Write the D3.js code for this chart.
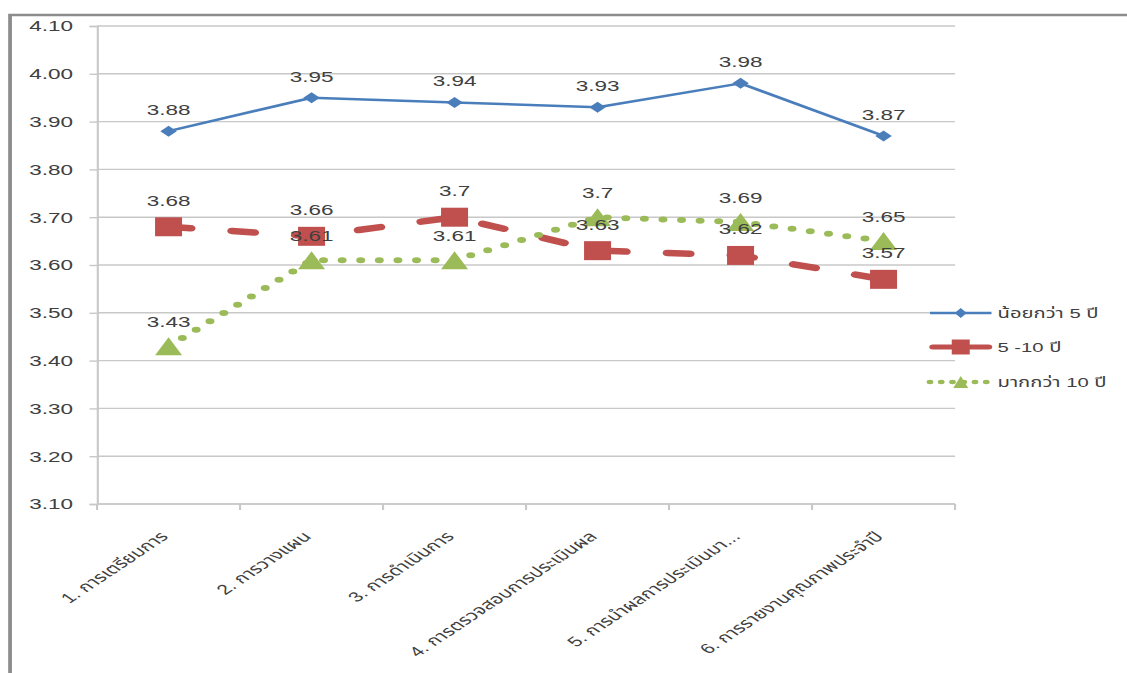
<!DOCTYPE html>
<html>
<head>
<meta charset="utf-8">
<script src="https://cdn.jsdelivr.net/npm/d3@7"></script>
<style>
  html, body { margin: 0; padding: 0; background: #fff; }
  svg { display: block; }
  text { font-family: "Liberation Sans", Arial, "Noto Sans Thai", "Noto Sans", sans-serif; fill: #404040; }
</style>
</head>
<body>
<script>
// Chart data
const categories = [
    "1. การเตรียมการ",
    "2. การวางแผน",
    "3. การดำเนินการ",
    "4. การตรวจสอบการประเมินผล",
    "5. การนำผลการประเมินมา...",
    "6. การรายงานคุณภาพประจำปี"
];
const seriesNames = ["น้อยกว่า 5 ปี", "5 -10 ปี", "มากกว่า 10 ปี"];
const lessThan5 = [3.88, 3.95, 3.94, 3.93, 3.98, 3.87];
const from5to10 = [3.68, 3.66, 3.7, 3.63, 3.62, 3.57];
const moreThan10 = [3.43, 3.61, 3.61, 3.7, 3.69, 3.65];
const yTicks = [3.10, 3.20, 3.30, 3.40, 3.50, 3.60, 3.70, 3.80, 3.90, 4.00, 4.10];

// The original picture is stretched sideways, so draw in a narrower space and scale x
const width = 1127;
const height = 673;
const stretch = 1.5;
const innerWidth = width / stretch;

const plot = { left: 64.7, right: 636.7, top: 26, bottom: 504 };

const svg = d3.select("body")
    .append("svg")
    .attr("width", width)
    .attr("height", height)
    .attr("viewBox", [0, 0, width, height]);

const g = svg.append("g")
    .attr("transform", `scale(${stretch},1)`);

// Frame round the chart
g.append("path")
    .attr("d", `M6.7,${height} L6.7,15 L${innerWidth},15`)
    .attr("fill", "none")
    .attr("stroke", "#8c8c8c")
    .attr("stroke-width", 2.5);

// Scales
const x = d3.scaleBand()
    .domain(categories)
    .range([plot.left, plot.right]);

const y = d3.scaleLinear()
    .domain([3.1, 4.1])
    .range([plot.bottom, plot.top]);

const cx = c => x(c) + x.bandwidth() / 2;

// Horizontal gridlines
g.append("g")
    .selectAll("line")
    .data(yTicks)
    .join("line")
    .attr("x1", plot.left)
    .attr("x2", plot.right)
    .attr("y1", d => y(d))
    .attr("y2", d => y(d))
    .attr("stroke", "#c8c8c8")
    .attr("stroke-width", 1.4);

// Y axis
const yAxis = g.append("g")
    .attr("transform", `translate(${plot.left},0)`)
    .call(d3.axisLeft(y).tickValues(yTicks).tickFormat(d3.format(".2f")).tickSize(5).tickPadding(11));
yAxis.select(".domain").attr("stroke", "#c8c8c8").attr("stroke-width", 1.4);
yAxis.selectAll(".tick line").attr("stroke", "#c8c8c8").attr("stroke-width", 1.4);
yAxis.selectAll(".tick text")
    .attr("fill", "#404040")
    .style("font-size", "15px");

// X axis with ticks on category boundaries
const xAxis = g.append("g")
    .attr("transform", `translate(0,${plot.bottom})`);
xAxis.append("line")
    .attr("x1", plot.left)
    .attr("x2", plot.right)
    .attr("stroke", "#c8c8c8")
    .attr("stroke-width", 1.4);
xAxis.selectAll("line.tick")
    .data(categories.concat([null]))
    .join("line")
    .attr("class", "tick")
    .attr("x1", (d, i) => plot.left + i * x.bandwidth())
    .attr("x2", (d, i) => plot.left + i * x.bandwidth())
    .attr("y1", 0)
    .attr("y2", 6)
    .attr("stroke", "#c8c8c8")
    .attr("stroke-width", 1.4);
xAxis.selectAll("text")
    .data(categories)
    .join("text")
    .attr("transform", d => `translate(${cx(d) - 3},30) rotate(-45)`)
    .attr("text-anchor", "end")
    .attr("dy", "0.35em")
    .style("font-size", "14px")
    .text(d => d);

// Series settings
const series = [
    { name: seriesNames[0], values: lessThan5, color: "#4a7ebb", width: 2.5, dash: null, cap: "butt", marker: "diamond", labelOffset: 16 },
    { name: seriesNames[1], values: from5to10, color: "#c0504d", width: 6.5, dash: "14.8 27.8", cap: "round", marker: "square", labelOffset: 21 },
    { name: seriesNames[2], values: moreThan10, color: "#9bbb59", width: 6, dash: "0 12.4", cap: "round", marker: "triangle", labelOffset: 19 }
];

function markerPath(type, w, h) {
    if (type === "diamond") return `M0,${-h} L${w},0 L0,${h} L${-w},0 Z`;
    if (type === "square") return `M${-w},${-h} L${w},${-h} L${w},${h} L${-w},${h} Z`;
    return `M0,${-h} L${w},${h} L${-w},${h} Z`;
}
const markerSize = { diamond: [5.5, 5.5], square: [9, 9.5], triangle: [9, 9] };

const line = d3.line()
    .x((d, i) => cx(categories[i]))
    .y(d => y(d));

series.forEach(s => {
    g.append("path")
        .datum(s.values)
        .attr("d", line)
        .attr("fill", "none")
        .attr("stroke", s.color)
        .attr("stroke-width", s.width)
        .attr("stroke-linecap", s.cap)
        .attr("stroke-linejoin", "round")
        .attr("stroke-dasharray", s.dash);
});

series.forEach(s => {
    const [mw, mh] = markerSize[s.marker];
    g.append("g")
        .selectAll("path")
        .data(s.values)
        .join("path")
        .attr("transform", (d, i) => `translate(${cx(categories[i])},${y(d)})`)
        .attr("d", markerPath(s.marker, mw, mh))
        .attr("fill", s.color);
});

// Data labels
series.forEach(s => {
    g.append("g")
        .selectAll("text")
        .data(s.values)
        .join("text")
        .attr("x", (d, i) => cx(categories[i]))
        .attr("y", d => y(d) - s.labelOffset)
        .attr("text-anchor", "middle")
        .style("font-size", "15px")
        .text(d => String(d));
});

// Legend
const legendX = 620, legendLen = 41;
const legendY = [313, 347, 382];
const legendMarker = { diamond: [4, 5], square: [6, 7.5], triangle: [5, 6] };
const legendDash = [null, null, "0 7.5"];
const legendWidth = [2.5, 5, 4.5];

const legend = g.append("g");
series.forEach((s, i) => {
    const row = legend.append("g").attr("transform", `translate(${legendX},${legendY[i]})`);
    row.append("line")
        .attr("x1", i === 1 ? 2 : 0)
        .attr("x2", i === 1 ? legendLen - 2 : legendLen)
        .attr("stroke", s.color)
        .attr("stroke-width", legendWidth[i])
        .attr("stroke-linecap", i === 0 ? "butt" : "round")
        .attr("stroke-dasharray", legendDash[i]);
    const [mw, mh] = legendMarker[s.marker];
    row.append("path")
        .attr("transform", `translate(${legendLen / 2},0)`)
        .attr("d", markerPath(s.marker, mw, mh))
        .attr("fill", s.color);
    row.append("text")
        .attr("x", legendLen + 4)
        .attr("dy", "0.35em")
        .style("font-size", "13.5px")
        .text(s.name);
});
</script>
</body>
</html>
